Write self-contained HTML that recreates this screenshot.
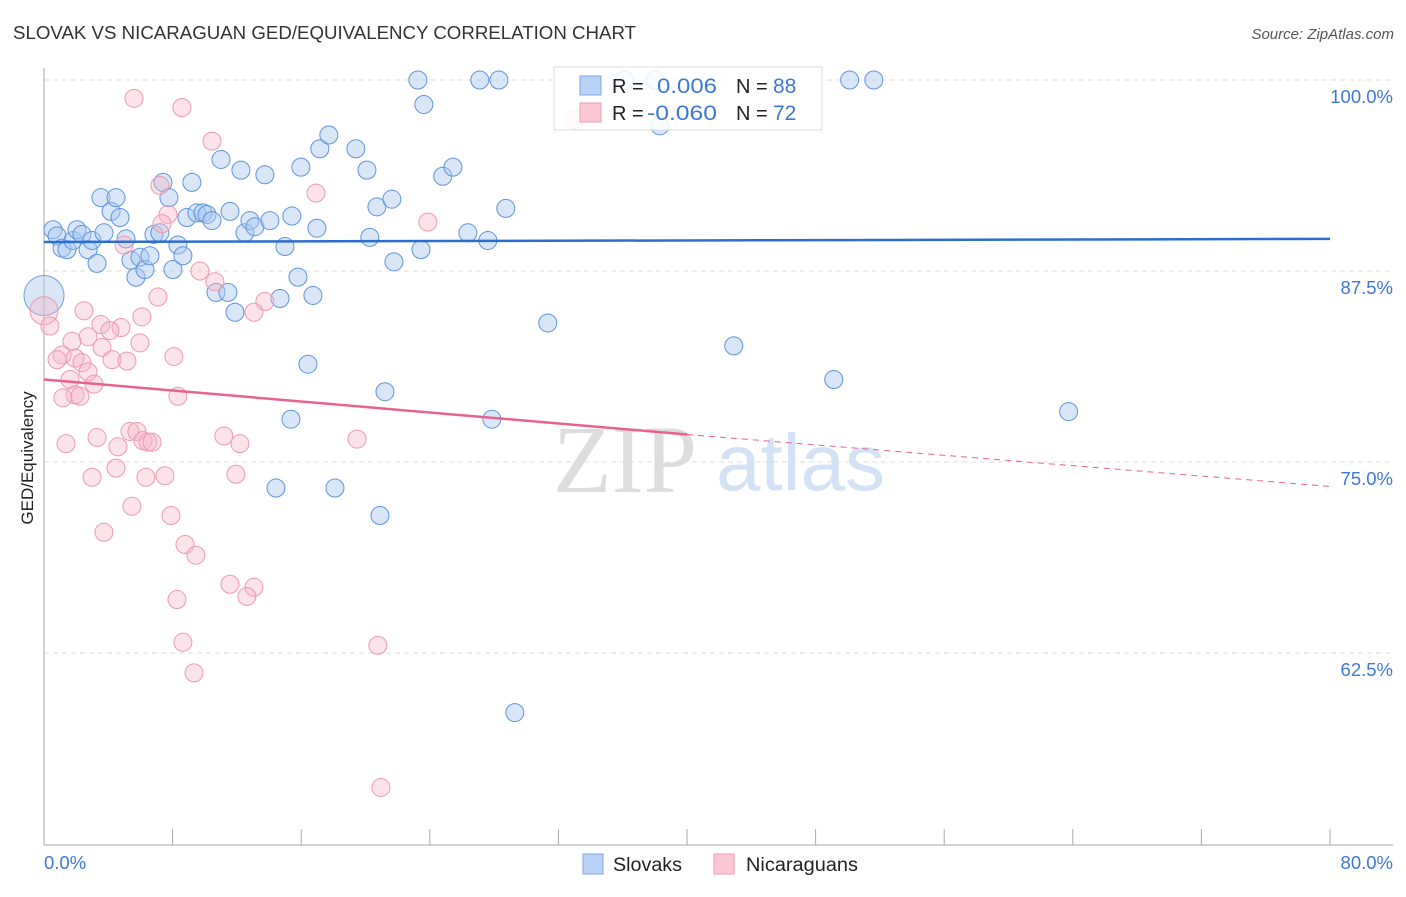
<!DOCTYPE html>
<html><head><meta charset="utf-8"><style>
body{margin:0;background:#fff;font-family:"Liberation Sans",sans-serif}
svg text{font-family:"Liberation Sans",sans-serif}
</style></head><body>
<svg id="chart" width="1406" height="892" viewBox="0 0 1406 892" xmlns="http://www.w3.org/2000/svg">
<text x="13" y="39" font-size="18" fill="#333" textLength="623" lengthAdjust="spacingAndGlyphs">SLOVAK VS NICARAGUAN GED/EQUIVALENCY CORRELATION CHART</text>
<text x="1394" y="39" font-size="15" fill="#555" text-anchor="end" font-style="italic">Source: ZipAtlas.com</text>
<text x="553" y="492" font-size="96" fill="#ddd" font-family="Liberation Serif" style="font-family:'Liberation Serif',serif">ZIP</text>
<text x="716" y="490" font-size="80" fill="#d3e2f5">atlas</text>
<g id="grid"></g>
<g id="axes"></g>
<g id="pts"></g>
<g id="trend"></g>
<text transform="translate(33,458) rotate(-90)" font-size="17" fill="#222" text-anchor="middle">GED/Equivalency</text>
<g>
<rect x="554" y="67" width="268" height="63" fill="#fff" fill-opacity="0.85" stroke="#ddd"/>
<rect x="580" y="76" width="21" height="19" fill="#b8d3f5" stroke="#7aa9e6"/>
<rect x="580" y="103" width="21" height="19" fill="#fcc8d6" stroke="#ef9ab2"/>
<text x="612" y="93" font-size="20" fill="#222">R = </text><text x="657" y="93" font-size="21" fill="#3d78d4" textLength="60" lengthAdjust="spacingAndGlyphs">0.006</text>
<text x="736" y="93" font-size="20" fill="#222">N = </text><text x="773" y="93" font-size="21" fill="#3d78d4">88</text>
<text x="612" y="120" font-size="20" fill="#222">R = </text><text x="647" y="120" font-size="21" fill="#3d78d4" textLength="70" lengthAdjust="spacingAndGlyphs">-0.060</text>
<text x="736" y="120" font-size="20" fill="#222">N = </text><text x="773" y="120" font-size="21" fill="#3d78d4">72</text>
</g>
<g>
<rect x="583" y="854" width="20" height="20" fill="#b8d3f5" stroke="#7aa9e6"/>
<text x="613" y="871" font-size="19" fill="#222" textLength="69" lengthAdjust="spacingAndGlyphs">Slovaks</text>
<rect x="714" y="854" width="20" height="20" fill="#fcc8d6" stroke="#ef9ab2"/>
<text x="746" y="871" font-size="19" fill="#222" textLength="112" lengthAdjust="spacingAndGlyphs">Nicaraguans</text>
</g>
</svg>
<script>
const yTicks=[100,87.5,75,62.5];
const yTickLabels=["100.0%","87.5%","75.0%","62.5%"];
const xTickLabels=["0.0%","80.0%"];
const slovakX=[0.56,0.81,1.12,1.43,1.80,2.05,2.36,2.74,2.99,3.30,3.54,3.73,4.17,4.48,4.73,5.10,5.41,5.72,5.97,6.28,6.59,6.84,7.21,7.40,7.77,8.02,8.33,8.64,8.89,9.20,9.51,9.89,10.14,10.45,10.70,11.01,11.44,11.57,11.88,12.25,12.50,12.81,13.12,13.74,14.05,14.68,14.43,14.99,15.42,15.80,15.98,16.42,16.73,16.98,17.16,17.72,18.10,19.40,20.09,20.27,20.71,20.90,21.21,21.64,21.77,23.26,23.45,23.63,24.81,25.44,26.37,27.11,27.61,27.86,28.30,28.73,29.29,31.34,36.13,38.0,38.31,42.91,49.13,50.12,51.62,63.74,15.36];
const slovakY=[90.2,89.8,89.0,88.9,89.5,90.2,89.9,88.9,89.5,88.0,92.3,90.0,91.4,92.3,91.0,89.6,88.2,87.1,88.4,87.6,88.5,89.9,90.0,93.3,92.3,87.6,89.2,88.5,91.0,93.3,91.3,91.3,91.2,90.8,86.1,94.8,86.1,91.4,84.8,94.1,90.0,90.8,90.4,93.8,90.8,85.7,73.3,89.1,91.1,87.1,94.3,81.4,85.9,90.3,95.5,96.4,73.3,95.5,94.1,89.7,91.7,71.5,79.6,92.2,88.1,100,88.9,98.4,93.7,94.3,90.0,100,89.5,77.8,100,91.6,58.6,84.1,100,100,97.0,82.6,80.4,100,100,78.3,77.8];
const nicX=[5.60,8.58,10.45,7.21,7.71,7.34,4.98,16.92,23.88,33.02,9.70,10.63,13.74,13.06,7.09,6.09,2.49,3.54,4.79,4.10,0.37,2.74,1.74,3.61,5.97,1.12,0.81,1.93,2.36,4.23,5.16,8.08,2.74,1.62,3.11,1.93,1.18,8.33,2.24,3.30,1.37,5.35,5.78,6.16,6.47,6.72,11.19,12.19,19.47,4.60,4.48,2.99,6.34,7.52,11.94,5.47,7.90,3.73,8.77,9.45,11.57,13.06,12.62,8.27,8.64,20.77,9.33,20.96];
const nicY=[98.8,98.2,96.0,93.1,91.2,90.6,89.2,92.6,90.7,97.4,87.5,86.8,85.5,84.8,85.8,84.5,84.9,84.0,83.8,83.6,83.9,83.2,82.9,82.5,82.8,82.0,81.7,81.8,81.5,81.7,81.6,81.9,80.9,80.4,80.1,79.4,79.2,79.3,79.3,76.6,76.2,77.0,77.0,76.4,76.3,76.3,76.7,76.2,76.5,76.0,74.6,74.0,74.0,74.1,74.2,72.1,71.5,70.4,69.6,68.9,67.0,66.8,66.2,66.0,63.2,63.0,61.2,53.7];
const bigX=[0,0];const bigY=[85.9,84.9];
const slovakTrend=[89.4,89.6];
const nicTrend=[80.4,76.8,73.4];
const X=v=>44+v*16.075, Y=v=>80+(100-v)*15.28;
const NS="http://www.w3.org/2000/svg";
function mk(p,t,a){const e=document.createElementNS(NS,t);for(const k in a)e.setAttribute(k,a[k]);p.appendChild(e);return e;}
const grid=document.getElementById('grid'),axes=document.getElementById('axes'),pts=document.getElementById('pts'),tr=document.getElementById('trend');
yTicks.forEach((v,i)=>{
 const l=mk(grid,'line',{x1:44,x2:1393,y1:Y(v),y2:Y(v),stroke:'#ddd','stroke-dasharray':'5,4'});
 
 
 const t=mk(axes,'text',{x:1393,y:Y(v)+23,'font-size':18.5,fill:'#3d78d4','text-anchor':'end'});t.textContent=yTickLabels[i];
 
 
});
mk(axes,'line',{x1:44,x2:44,y1:68,y2:845,stroke:'#aaa'});
mk(axes,'line',{x1:44,x2:1393,y1:845,y2:845,stroke:'#aaa'});
for(let k=0;k<=10;k++){const x=X(k*8);mk(axes,'line',{x1:x,x2:x,y1:829,y2:845,stroke:'#aaa'});}
const xl0=mk(axes,'text',{x:44,y:869,'font-size':18.5,fill:'#3d78d4'});xl0.textContent=xTickLabels[0];


const xl1=mk(axes,'text',{x:1393,y:869,'font-size':18.5,fill:'#3d78d4','text-anchor':'end'});xl1.textContent=xTickLabels[1];


const b1=mk(pts,'circle',{cx:X(bigX[0]),cy:Y(bigY[0]),r:20,fill:'#a9c8f0','fill-opacity':0.45,stroke:'#6f9fe0'});


const b2=mk(pts,'circle',{cx:X(bigX[1]),cy:Y(bigY[1]),r:14,fill:'#f7b6c8','fill-opacity':0.4,stroke:'#ee9ab1'});


slovakX.forEach((v,i)=>{const c=mk(pts,'circle',{cx:X(v),cy:Y(slovakY[i]),r:9,fill:'#a9c8f0','fill-opacity':0.45,stroke:'#5f95dd','stroke-width':1});
 
 });
nicX.forEach((v,i)=>{const c=mk(pts,'circle',{cx:X(v),cy:Y(nicY[i]),r:9,fill:'#f7b6c8','fill-opacity':0.4,stroke:'#ee9ab1','stroke-width':1});
 
 });
const t1=mk(tr,'line',{x1:X(0),x2:X(80),y1:Y(slovakTrend[0]),y2:Y(slovakTrend[1]),stroke:'#2a6fd0','stroke-width':2.5});


const t2=mk(tr,'line',{x1:X(0),x2:X(40),y1:Y(nicTrend[0]),y2:Y(nicTrend[1]),stroke:'#e8628e','stroke-width':2.5});


const t3=mk(tr,'line',{x1:X(40),x2:X(80),y1:Y(nicTrend[1]),y2:Y(nicTrend[2]),stroke:'#e8628e','stroke-width':1,'stroke-dasharray':'6,5'});


</script>
</body></html>
